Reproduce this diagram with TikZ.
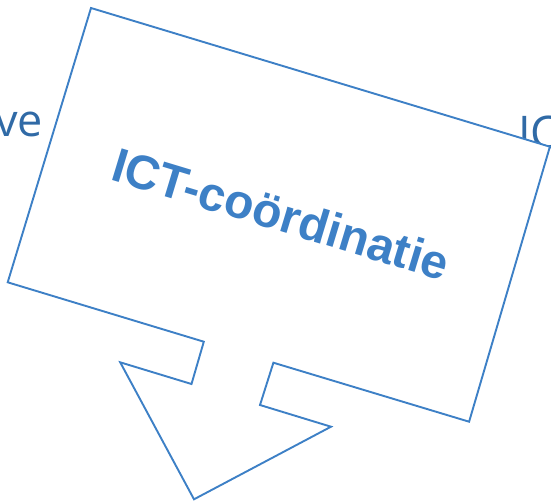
\documentclass[tikz,border=0pt]{standalone}
\usepackage{fontspec}
\setmainfont{Liberation Sans}
\newfontfamily\bgfont{Open Sans}
\definecolor{boxblue}{RGB}{61,128,198}
\definecolor{bgblue}{RGB}{48,106,166}
\begin{document}
\begin{tikzpicture}[x=1pt,y=-1pt,
  bgtext/.style={text=bgblue,font=\bgfont\fontsize{45}{52}\selectfont,inner sep=0pt},
  calloutline/.style={draw=boxblue,line width=1.9pt,fill=white,line join=miter},
  titletext/.style={text=boxblue,font=\bfseries\fontsize{48}{55}\selectfont,inner sep=0pt,rotate=-16.85}]
\useasboundingbox (0,0) rectangle (551,501);
\node[bgtext,anchor=base east] (ve) at (43,136) {ve};
\node[bgtext,anchor=base west] (ic) at (518,148) {IC};
\draw[calloutline] (91.0,8.0) -- (549.9,146.7) -- (469.1,421.7) -- (273.4,362.7) -- (260.0,405) -- (331.0,426.7) -- (194.0,499.3) -- (120.2,362.3) -- (191.5,384) -- (203.8,341.7) -- (7.7,282.3) -- cycle;
\node[titletext,anchor=base] (title) at (276.2,230.5) {ICT-coördinatie};
\end{tikzpicture}
\end{document}
